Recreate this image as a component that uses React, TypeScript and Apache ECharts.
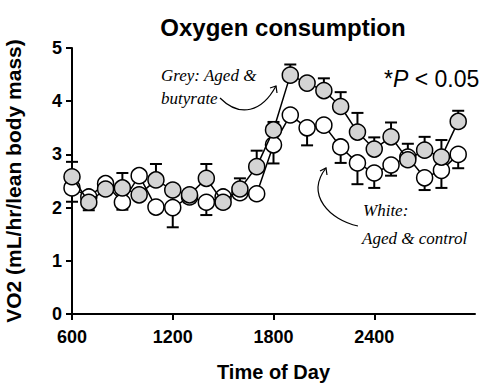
import React, { useEffect, useRef } from "react";
import * as echarts from "echarts";

const times = [600, 700, 800, 900, 1000, 1100, 1200, 1300, 1400, 1500, 1600, 1700, 1800, 1900, 2000, 2100, 2200, 2300, 2400, 2500, 2600, 2700, 2800, 2900];
const greyMean = [2.58, 2.1, 2.35, 2.37, 2.24, 2.52, 2.33, 2.24, 2.55, 2.1, 2.35, 2.77, 3.46, 4.49, 4.34, 4.2, 3.9, 3.42, 3.1, 3.33, 2.9, 3.08, 2.95, 3.62];
const greyErr = [0.28, 0.17, 0.1, 0.28, 0.1, 0.3, 0.1, 0.1, 0.27, 0.1, 0.2, 0.3, 0.15, 0.2, 0.1, 0.23, 0.27, 0.36, 0.22, 0.27, 0.3, 0.25, 0.32, 0.2];
const whiteMean = [2.37, 2.2, 2.45, 2.1, 2.6, 2.01, 2.0, 2.2, 2.1, 2.2, 2.28, 2.26, 3.18, 3.74, 3.5, 3.55, 3.14, 2.84, 2.65, 2.8, 2.95, 2.56, 2.7, 3.0];
const whiteErr = [0.26, 0.25, 0.1, 0.14, 0.1, 0.1, 0.37, 0.1, 0.24, 0.1, 0.1, 0.1, 0.35, 0.1, 0.33, 0.1, 0.3, 0.4, 0.28, 0.2, 0.1, 0.23, 0.33, 0.26];
const xTicks = [600, 1200, 1800, 2400];

const FONT = "Liberation Sans, Arial, sans-serif";
const HAND = "Liberation Serif, serif";

function errData(means: number[], errs: number[], dir: number) {
  return times.map((t, i) => [t, means[i], errs[i], dir]);
}

function renderErr(params: any, api: any) {
  const x = api.value(0);
  const m = api.value(1);
  const e = api.value(2);
  const d = api.value(3);
  const p0 = api.coord([x, m]);
  const p1 = api.coord([x, m + d * e]);
  const hw = 6;
  const style = { stroke: "#000", lineWidth: 2 };
  return {
    type: "group",
    children: [
      { type: "line", shape: { x1: p0[0], y1: p0[1], x2: p1[0], y2: p1[1] }, style },
      { type: "line", shape: { x1: p1[0] - hw, y1: p1[1], x2: p1[0] + hw, y2: p1[1] }, style },
    ],
  };
}

export default function App() {
  const ref = useRef<HTMLDivElement>(null);
  useEffect(() => {
    if (!ref.current) return;
    const chart = echarts.init(ref.current, undefined, { renderer: "svg" });
    chart.setOption({
      animation: false,
      backgroundColor: "#fff",
      title: {
        text: "Oxygen consumption",
        left: 278,
        textAlign: "center",
        top: 10,
        textStyle: { fontFamily: FONT, fontWeight: "bold", fontSize: 24, color: "#000" },
      },
      grid: { left: 72, right: 15, top: 48, bottom: 71, containLabel: false, outerBoundsMode: "none" },
      xAxis: {
        type: "value",
        min: 600,
        max: 3000,
        interval: 600,
        name: "Time of Day",
        nameLocation: "middle",
        nameGap: 48,
        nameTextStyle: { fontFamily: FONT, fontWeight: "bold", fontSize: 20, color: "#000" },
        axisLine: { lineStyle: { color: "#000", width: 2 } },
        axisTick: { show: true, length: 6, lineStyle: { color: "#000", width: 2 }, customValues: xTicks },
        axisLabel: {
          fontFamily: FONT, fontWeight: "bold", fontSize: 18, color: "#000", margin: 14,
          customValues: xTicks,
          formatter: (v: number) => String(v),
        },
        splitLine: { show: false },
      },
      yAxis: {
        type: "value",
        min: 0,
        max: 5,
        interval: 1,
        name: "VO2 (mL/hr/lean body mass)",
        nameLocation: "middle",
        nameGap: 48,
        nameTextStyle: { fontFamily: FONT, fontWeight: "bold", fontSize: 21, color: "#000" },
        axisLine: { show: true, lineStyle: { color: "#000", width: 2 } },
        axisTick: { show: true, length: 6, lineStyle: { color: "#000", width: 2 } },
        axisLabel: { fontFamily: FONT, fontWeight: "bold", fontSize: 18, color: "#000", margin: 10 },
        splitLine: { show: false },
      },
      series: [
        {
          type: "custom",
          renderItem: renderErr,
          data: errData(whiteMean, whiteErr, -1),
          encode: { x: 0, y: 1 },
          z: 1,
          silent: true,
        },
        {
          type: "custom",
          renderItem: renderErr,
          data: errData(greyMean, greyErr, 1),
          encode: { x: 0, y: 1 },
          z: 1,
          silent: true,
        },
        {
          type: "line",
          data: times.map((t, i) => [t, whiteMean[i]]),
          symbol: "circle",
          symbolSize: 16,
          lineStyle: { color: "#000", width: 1.5 },
          itemStyle: { color: "#fff", borderColor: "#000", borderWidth: 1.5 },
          z: 2,
        },
        {
          type: "line",
          data: times.map((t, i) => [t, greyMean[i]]),
          symbol: "circle",
          symbolSize: 16,
          lineStyle: { color: "#000", width: 1.5 },
          itemStyle: { color: "#d4d4d4", borderColor: "#000", borderWidth: 1.5 },
          z: 3,
        },
      ],
      graphic: [
        {
          type: "text",
          left: 384,
          top: 67,
          style: {
            text: "{a|*}{b|P}{a| < 0.05}",
            rich: {
              a: { fontFamily: FONT, fontSize: 23, fill: "#000" },
              b: { fontFamily: FONT, fontSize: 23, fontStyle: "italic", fill: "#000" },
            },
          },
        },
        {
          type: "text",
          left: 161,
          top: 67,
          style: { text: "Grey: Aged &", font: "italic 17px " + HAND, fill: "#000" },
        },
        {
          type: "text",
          left: 161,
          top: 90,
          style: { text: "butyrate", font: "italic 17px " + HAND, fill: "#000" },
        },
        {
          type: "text",
          left: 363,
          top: 202,
          style: { text: "White:", font: "italic 17px " + HAND, fill: "#000" },
        },
        {
          type: "text",
          left: 362,
          top: 230,
          style: { text: "Aged & control", font: "italic 17px " + HAND, fill: "#000" },
        },
        {
          type: "bezierCurve",
          shape: { x1: 220, y1: 98, cpx1: 240, cpy1: 118, cpx2: 262, cpy2: 112, x2: 276, y2: 86 },
          style: { stroke: "#000", lineWidth: 1.2, fill: "none" },
        },
        {
          type: "polyline",
          shape: { points: [[270, 88], [276, 86], [277, 93]] },
          style: { stroke: "#000", lineWidth: 1.2, fill: "none" },
        },
        {
          type: "bezierCurve",
          shape: { x1: 358, y1: 226, cpx1: 330, cpy1: 220, cpx2: 305, cpy2: 195, x2: 326, y2: 168 },
          style: { stroke: "#000", lineWidth: 1.2, fill: "none" },
        },
        {
          type: "polyline",
          shape: { points: [[320, 171], [326, 168], [327, 175]] },
          style: { stroke: "#000", lineWidth: 1.2, fill: "none" },
        },
      ],
    });
    return () => chart.dispose();
  }, []);
  return (
    <div
      ref={ref}
      style={{ position: "fixed", left: 0, top: 0, width: 490, height: 385 }}
    />
  );
}
